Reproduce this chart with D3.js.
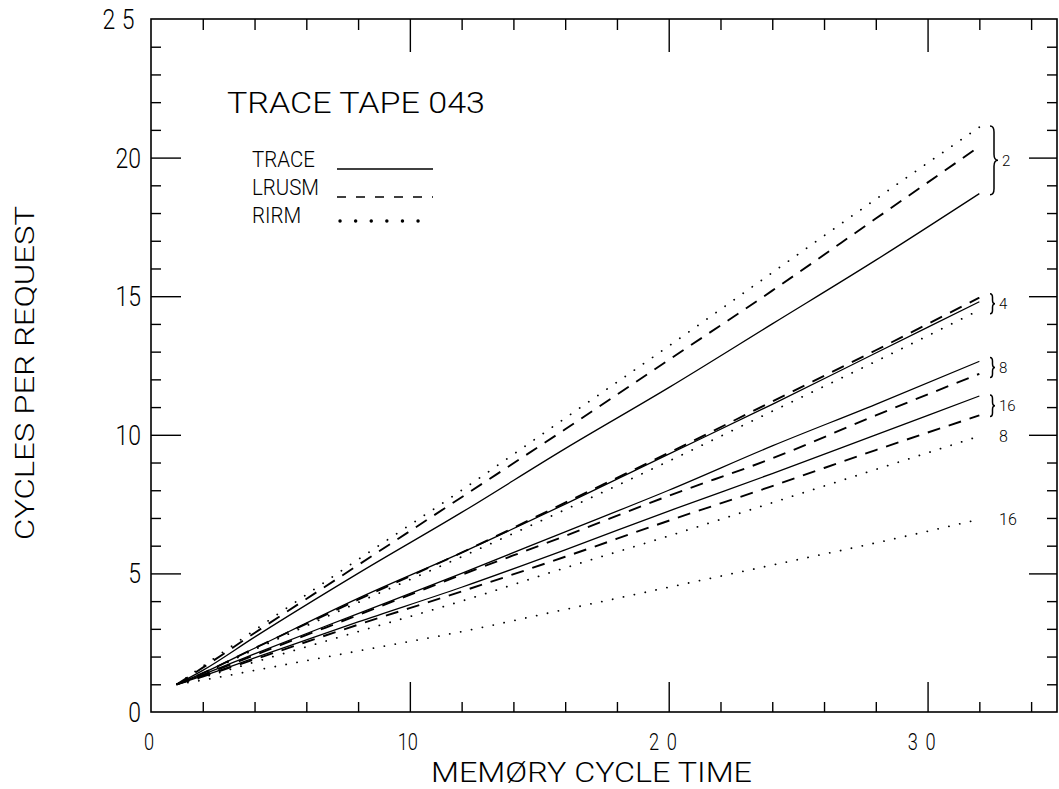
<!DOCTYPE html>
<html>
<head>
<meta charset="utf-8">
<script src="https://cdn.jsdelivr.net/npm/d3@7"></script>
<style>
  body { margin: 0; background: #fff; }
  svg { display: block; }
  text { font-family: Roboto, "DejaVu Sans", sans-serif; font-weight: 300; fill: #000; }
</style>
</head>
<body>
<div id="app"></div>
<script>
// memory cycle time (x) at which each curve was read
var cycleTime = [1, 2, 4, 8, 12, 16, 20, 24, 28, 32];

// cycles per request, buffer size 2
var trace2 = [1, 1.5, 2.7, 5.0, 7.2, 9.5, 11.7, 14.0, 16.3, 18.7];
var lrusm2 = [1, 1.6, 2.85, 5.3, 7.75, 10.2, 12.7, 15.2, 17.8, 20.4];
var rirm2  = [1, 1.65, 2.95, 5.5, 8.0, 10.6, 13.2, 15.85, 18.5, 21.1];
// buffer size 4
var trace4 = [1, 1.4, 2.3, 4.1, 5.75, 7.5, 9.3, 11.1, 12.95, 14.8];
var lrusm4 = [1, 1.4, 2.3, 4.05, 5.75, 7.55, 9.35, 11.2, 13.05, 14.95];
var rirm4  = [1, 1.38, 2.25, 3.95, 5.6, 7.3, 9.05, 10.85, 12.65, 14.5];
// buffer size 8
var trace8 = [1, 1.35, 2.1, 3.55, 5.0, 6.5, 8.0, 9.6, 11.1, 12.65];
var lrusm8 = [1, 1.33, 2.05, 3.5, 4.95, 6.35, 7.8, 9.15, 10.7, 12.2];
var rirm8  = [1, 1.25, 1.8, 2.9, 4.0, 5.2, 6.35, 7.55, 8.75, 9.95];
// buffer size 16
var trace16 = [1, 1.3, 1.95, 3.25, 4.5, 5.85, 7.25, 8.6, 10.0, 11.4];
var lrusm16 = [1, 1.28, 1.9, 3.15, 4.35, 5.6, 6.9, 8.15, 9.45, 10.7];
var rirm16  = [1, 1.15, 1.5, 2.2, 2.9, 3.7, 4.5, 5.3, 6.1, 6.95];

var methods = ["TRACE", "LRUSM", "RIRM"];
var bufferSizes = ["2", "4", "8", "16"];
var xTicks = [0, 10, 20, 30];
var yTicks = [0, 5, 10, 15, 20, 25];
var title = "TRACE TAPE 043";
var xTitle = "MEMØRY CYCLE TIME";
var yTitle = "CYCLES PER REQUEST";
// sizes whose RIRM curve shares the brace with TRACE/LRUSM
var rirmInBrace = ["2", "4"];

var W = 1059, H = 789;
var x = d3.scaleLinear().domain([0, 35]).range([151, 1057]);
var y = d3.scaleLinear().domain([0, 25]).range([712, 19]);

var svg = d3.select('#app').append('svg').attr('width', W).attr('height', H);

var byMethodSize = {
  TRACE: { "2": trace2, "4": trace4, "8": trace8, "16": trace16 },
  LRUSM: { "2": lrusm2, "4": lrusm4, "8": lrusm8, "16": lrusm16 },
  RIRM:  { "2": rirm2,  "4": rirm4,  "8": rirm8,  "16": rirm16 }
};
var series = [];
methods.forEach(function(m) {
  bufferSizes.forEach(function(s) {
    series.push({ method: m, size: s, values: byMethodSize[m][s] });
  });
});

var styles = {
  TRACE: { width: 1.3, dash: null, cap: 'butt' },
  LRUSM: { width: 1.9, dash: '13,9', cap: 'butt' },
  RIRM:  { width: 1.8, dash: '0.1,11', cap: 'round' }
};

// frame
svg.append('rect')
  .attr('x', x(0)).attr('y', y(25))
  .attr('width', x(35) - x(0)).attr('height', y(0) - y(25))
  .attr('fill', 'none').attr('stroke', '#000').attr('stroke-width', 1.6);

// ticks, all pointing inward
var xMinor = d3.range(2, 35, 2).filter(function(v) { return v % 10 !== 0; });
var yMinor = d3.range(1, 25).filter(function(v) { return v % 5 !== 0; });
var yMajor = yTicks.filter(function(v) { return v > 0 && v < 25; });
var xMajor = xTicks.filter(function(v) { return v > 0; });

function tickGroup(axis, tx, ty) {
  var g = svg.append('g').attr('transform', 'translate(' + tx + ',' + ty + ')').call(axis);
  g.select('.domain').remove();
  g.selectAll('text').remove();
  g.selectAll('line').attr('stroke', '#000').attr('stroke-width', 1.4);
}
tickGroup(d3.axisBottom(x).tickValues(xMinor).tickSize(-10), 0, y(0));
tickGroup(d3.axisBottom(x).tickValues(xMajor).tickSize(-30), 0, y(0));
tickGroup(d3.axisTop(x).tickValues(xMinor).tickSize(-11), 0, y(25));
tickGroup(d3.axisTop(x).tickValues(xMajor).tickSize(-33), 0, y(25));
tickGroup(d3.axisLeft(y).tickValues(yMinor).tickSize(-10), x(0), 0);
tickGroup(d3.axisLeft(y).tickValues(yMajor).tickSize(-30), x(0), 0);
tickGroup(d3.axisRight(y).tickValues(yMinor).tickSize(-10), x(35), 0);
tickGroup(d3.axisRight(y).tickValues(yMajor).tickSize(-28), x(35), 0);

// tick labels (plotter style: narrow digits, some labels spread out)
svg.append('g').selectAll('text').data(yTicks).enter().append('text')
  .attr('transform', function(d) { return 'translate(141,' + (y(d) + 10) + ') scale(0.82,1)'; })
  .attr('text-anchor', 'end')
  .attr('font-size', 28)
  .attr('letter-spacing', function(d) { return d > 20 ? 8 : 0; })
  .text(function(d) { return d; });

svg.append('g').selectAll('text').data(xTicks).enter().append('text')
  .attr('transform', function(d) { return 'translate(' + (x(d) - 2) + ',750) scale(0.76,1)'; })
  .attr('text-anchor', 'middle')
  .attr('font-size', 24)
  .attr('letter-spacing', function(d) { return d >= 20 ? 10 : 0; })
  .text(function(d) { return d; });

// axis titles
svg.append('text')
  .attr('x', 431).attr('y', 782)
  .attr('font-size', 28)
  .attr('textLength', 321).attr('lengthAdjust', 'spacingAndGlyphs')
  .text(xTitle);

svg.append('text')
  .attr('transform', 'translate(34,373) rotate(-90)')
  .attr('text-anchor', 'middle')
  .attr('font-size', 26)
  .attr('textLength', 334).attr('lengthAdjust', 'spacingAndGlyphs')
  .text(yTitle);

// chart title
svg.append('text')
  .attr('x', 227).attr('y', 113)
  .attr('font-size', 29)
  .attr('textLength', 258).attr('lengthAdjust', 'spacingAndGlyphs')
  .text(title);

// legend
var legendStyles = {
  TRACE: { width: 1.6, dash: null, cap: 'butt', dy: 2 },
  LRUSM: { width: 1.6, dash: '9,10', cap: 'butt', dy: 2 },
  RIRM:  { width: 3.4, dash: '0.1,15.5', cap: 'round', dy: -2 }
};
var legend = svg.append('g').selectAll('g').data(methods).enter().append('g')
  .attr('transform', function(d, i) { return 'translate(252,' + (167 + i * 28) + ')'; });
legend.append('text')
  .attr('transform', 'scale(0.93,1)')
  .attr('font-size', 22)
  .text(function(d) { return d; });
legend.append('line')
  .attr('x1', function(d) { return d === 'RIRM' ? 88 : 85; }).attr('x2', 181)
  .attr('y1', function(d) { return legendStyles[d].dy; })
  .attr('y2', function(d) { return legendStyles[d].dy; })
  .attr('stroke', '#000')
  .attr('stroke-width', function(d) { return legendStyles[d].width; })
  .attr('stroke-dasharray', function(d) { return legendStyles[d].dash; })
  .attr('stroke-linecap', function(d) { return legendStyles[d].cap; });

// curves
var line = d3.line()
  .x(function(d, i) { return x(cycleTime[i]); })
  .y(function(d) { return y(d); })
  .curve(d3.curveMonotoneX);

svg.append('g').selectAll('path').data(series).enter().append('path')
  .attr('d', function(d) { return line(d.values); })
  .attr('fill', 'none')
  .attr('stroke', '#000')
  .attr('stroke-width', function(d) { return styles[d.method].width; })
  .attr('stroke-dasharray', function(d) { return styles[d.method].dash; })
  .attr('stroke-linecap', function(d) { return styles[d.method].cap; });

// right-hand annotations: braces grouping the curve ends by buffer size
function bracePath(x0, y0, y1, w) {
  var ym = (y0 + y1) / 2;
  var p = d3.path();
  p.moveTo(x0, y0);
  p.quadraticCurveTo(x0 + w, y0, x0 + w, y0 + w * 1.5);
  p.lineTo(x0 + w, ym - w * 1.5);
  p.quadraticCurveTo(x0 + w, ym, x0 + 2 * w, ym);
  p.quadraticCurveTo(x0 + w, ym, x0 + w, ym + w * 1.5);
  p.lineTo(x0 + w, y1 - w * 1.5);
  p.quadraticCurveTo(x0 + w, y1, x0, y1);
  return p.toString();
}

var notes = svg.append('g');
bufferSizes.forEach(function(s) {
  var members = series.filter(function(d) {
    return d.size === s && (d.method !== 'RIRM' || rirmInBrace.indexOf(s) >= 0);
  });
  var ends = members.map(function(d) { return y(d.values[d.values.length - 1]); });
  var mid = (d3.min(ends) + d3.max(ends)) / 2;
  var half = Math.max((d3.max(ends) - d3.min(ends)) / 2 + 1, 10);
  var w = half > 20 ? 4 : 2.5;
  notes.append('path')
    .attr('d', bracePath(990, mid - half, mid + half, w))
    .attr('fill', 'none').attr('stroke', '#000').attr('stroke-width', 1.5);
  notes.append('text')
    .attr('x', 990 + 2 * w + 4).attr('y', mid + 5.5)
    .attr('font-size', 15)
    .text(s);
});
// RIRM curves not inside a brace get a plain label
series.filter(function(d) { return d.method === 'RIRM' && rirmInBrace.indexOf(d.size) < 0; })
  .forEach(function(d) {
    notes.append('text')
      .attr('x', 999).attr('y', y(d.values[d.values.length - 1]) + 6)
      .attr('font-size', 16)
      .text(d.size);
  });
</script>
</body>
</html>
